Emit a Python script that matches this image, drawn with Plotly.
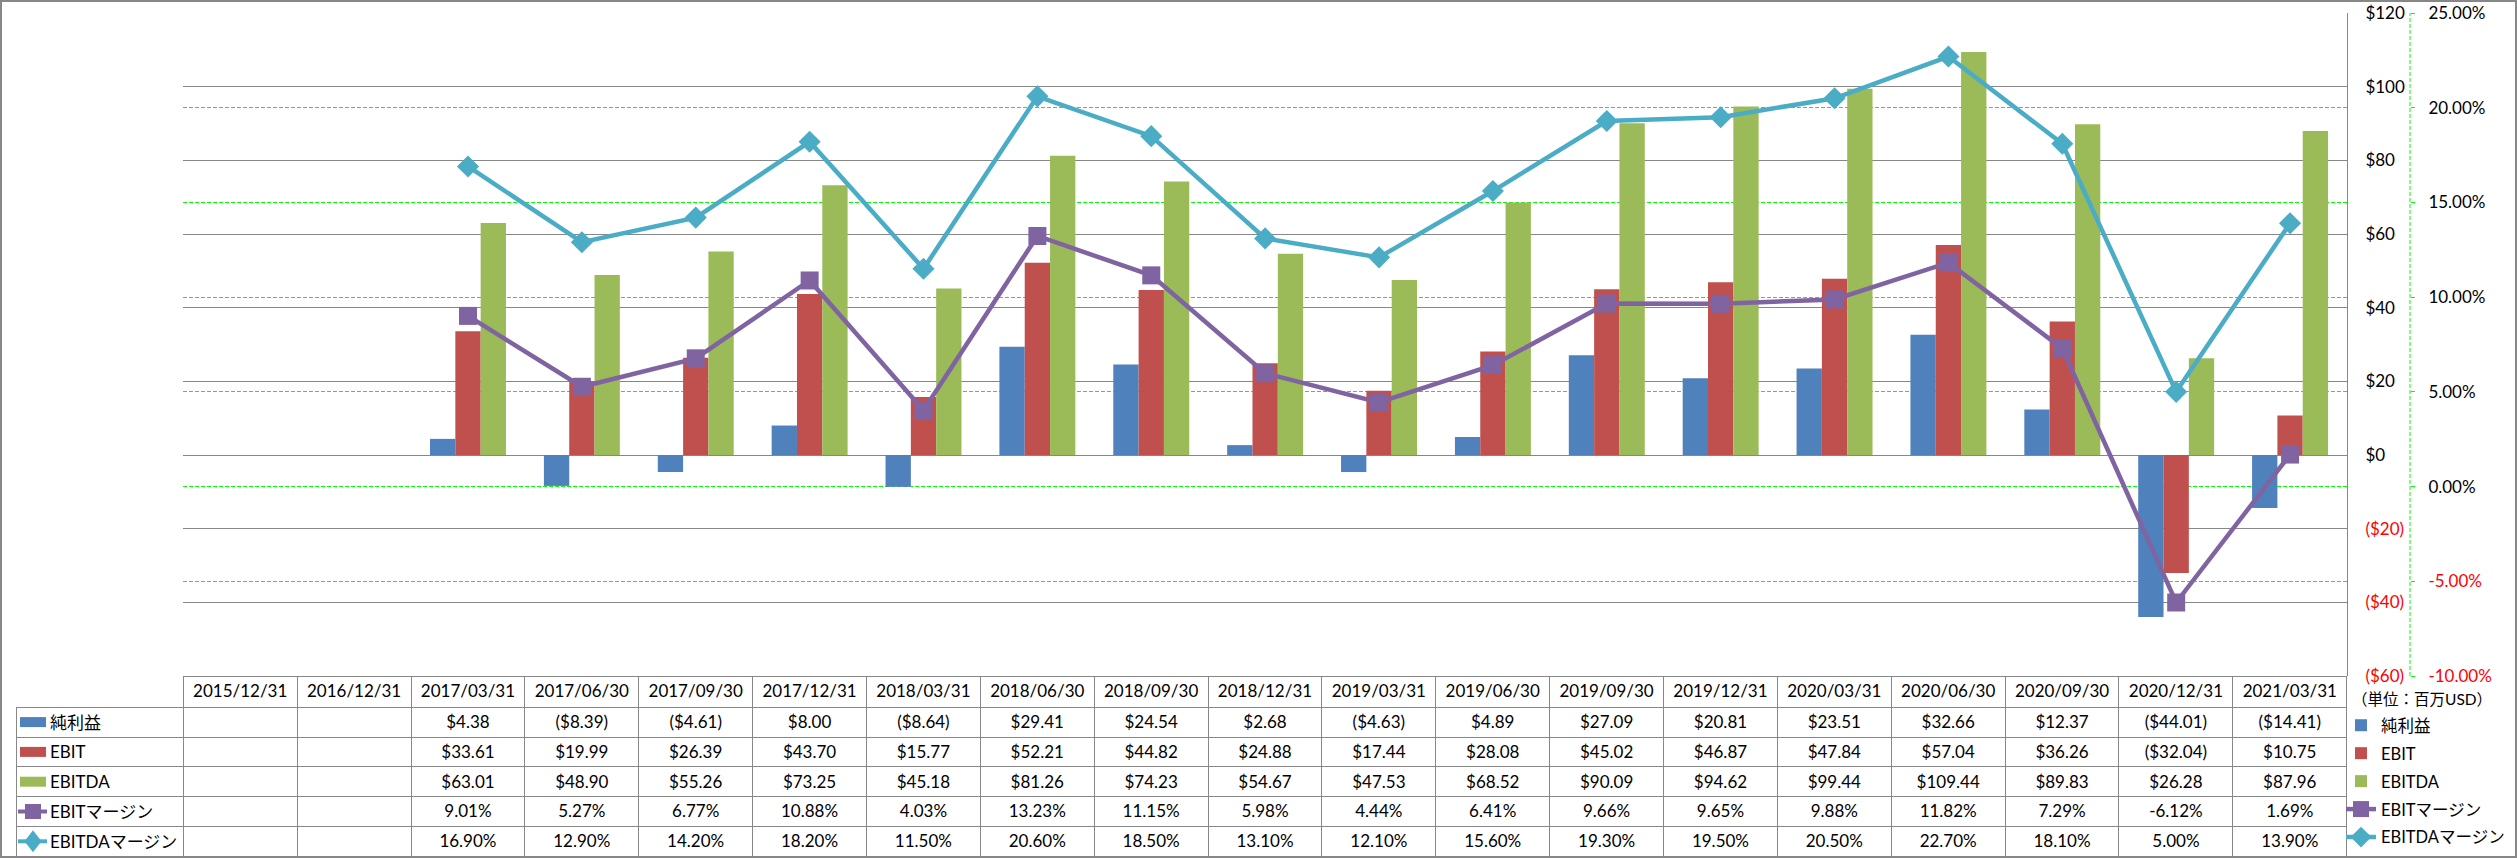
import plotly.graph_objects as go

W, H = 2517, 858

categories = ["2015/12/31", "2016/12/31", "2017/03/31", "2017/06/30", "2017/09/30", "2017/12/31",
              "2018/03/31", "2018/06/30", "2018/09/30", "2018/12/31", "2019/03/31", "2019/06/30",
              "2019/09/30", "2019/12/31", "2020/03/31", "2020/06/30", "2020/09/30", "2020/12/31",
              "2021/03/31"]
net_income = [None, None, 4.38, -8.39, -4.61, 8.00, -8.64, 29.41, 24.54, 2.68, -4.63, 4.89,
              27.09, 20.81, 23.51, 32.66, 12.37, -44.01, -14.41]
ebit = [None, None, 33.61, 19.99, 26.39, 43.70, 15.77, 52.21, 44.82, 24.88, 17.44, 28.08,
        45.02, 46.87, 47.84, 57.04, 36.26, -32.04, 10.75]
ebitda = [None, None, 63.01, 48.90, 55.26, 73.25, 45.18, 81.26, 74.23, 54.67, 47.53, 68.52,
          90.09, 94.62, 99.44, 109.44, 89.83, 26.28, 87.96]
ebit_margin = [None, None, 9.01, 5.27, 6.77, 10.88, 4.03, 13.23, 11.15, 5.98, 4.44, 6.41,
               9.66, 9.65, 9.88, 11.82, 7.29, -6.12, 1.69]
ebitda_margin = [None, None, 16.90, 12.90, 14.20, 18.20, 11.50, 20.60, 18.50, 13.10, 12.10, 15.60,
                 19.30, 19.50, 20.50, 22.70, 18.10, 5.00, 13.90]
series_names = ["純利益", "EBIT", "EBITDA", "EBITマージン", "EBITDAマージン"]
usd_ticks = [120, 100, 80, 60, 40, 20, 0, -20, -40, -60]
pct_ticks = [25, 20, 15, 10, 5, 0, -5, -10]
unit_label = "（単位：百万USD）"

C_BLUE, C_RED, C_GREEN, C_PURPLE, C_CYAN = "#4F81BD", "#C0504D", "#9BBB59", "#8064A2", "#4BACC6"
GRID = "#878787"
LIME = "#00FF00"
FONT = "Lato, 'Noto Sans CJK JP', sans-serif"
FS = 17

# table geometry (pixels)
TAB_LEFT, PLOT_LEFT, PLOT_RIGHT = 16.7, 183.3, 2347
TAB_TOP, HEAD_H, ROW_H = 676.7, 30.5, 29.8


def px(x):
    return x / W


def py(y):
    return 1 - y / H


def fmt_usd(v):
    if v is None:
        return ""
    return f"${v:.2f}" if v >= 0 else f"(${-v:.2f})"


def fmt_pct(v):
    if v is None:
        return ""
    return f"{v:.2f}%"


def usd_tick(v):
    if v < 0:
        return f"<span style='color:#FF0000'>(${-v})</span>"
    return f"${v}"


def pct_tick(v):
    s = f"{v:.2f}%"
    if v < 0:
        return f"<span style='color:#FF0000'>{s}</span>"
    return s


fig = go.Figure()

bar_data = [(net_income, C_BLUE), (ebit, C_RED), (ebitda, C_GREEN)]
for i, (vals, col) in enumerate(bar_data):
    fig.add_trace(go.Bar(x=categories, y=vals, name=series_names[i], marker=dict(color=col, line=dict(width=0)),
                         yaxis="y", legendgroup=f"g{i}"))

fig.add_trace(go.Scatter(x=categories, y=ebit_margin, name=series_names[3], mode="lines+markers",
                         line=dict(color=C_PURPLE, width=4.5),
                         marker=dict(symbol="square", size=18, color=C_PURPLE),
                         yaxis="y2", legendgroup="g3"))
fig.add_trace(go.Scatter(x=categories, y=ebitda_margin, name=series_names[4], mode="lines+markers",
                         line=dict(color=C_CYAN, width=4.5),
                         marker=dict(symbol="diamond", size=17, color=C_CYAN),
                         yaxis="y2", legendgroup="g4"))

# data table
n = len(categories)
cols = [[""] * 5]
for k in range(n):
    cols.append([fmt_usd(net_income[k]), fmt_usd(ebit[k]), fmt_usd(ebitda[k]),
                 fmt_pct(ebit_margin[k]), fmt_pct(ebitda_margin[k])])

col0_w = PLOT_LEFT - TAB_LEFT
colw = (PLOT_RIGHT - PLOT_LEFT) / n
fig.add_trace(go.Table(
    domain=dict(x=[px(TAB_LEFT), px(PLOT_RIGHT)], y=[0, py(TAB_TOP)]),
    columnwidth=[col0_w] + [colw] * n,
    header=dict(values=[""] + categories, height=HEAD_H, align="center",
                fill=dict(color=["rgba(0,0,0,0)"] + ["white"] * n),
                line=dict(color=["rgba(0,0,0,0)"] + [GRID] * n, width=1),
                font=dict(family=FONT, size=FS, color="black")),
    cells=dict(values=cols, height=ROW_H, align=["left"] + ["center"] * n,
               fill=dict(color="white"), line=dict(color=GRID, width=1),
               font=dict(family=FONT, size=FS, color="black")),
))

# row labels + keys of the data table
row_centers = [TAB_TOP + HEAD_H + ROW_H * (r + 0.5) for r in range(5)]
annotations = []
shapes = []
key_colors = [C_BLUE, C_RED, C_GREEN, C_PURPLE, C_CYAN]
for r, (name, col, yc) in enumerate(zip(series_names, key_colors, row_centers)):
    annotations.append(dict(text=name, xref="paper", yref="paper", x=px(48), y=py(yc),
                            xanchor="left", yanchor="middle", showarrow=False,
                            font=dict(family=FONT, size=FS, color="black")))
    if r < 3:
        shapes.append(dict(type="rect", xref="paper", yref="paper", x0=px(20), x1=px(46),
                           y0=py(yc + 5), y1=py(yc - 5), fillcolor=col, line=dict(width=0)))
    else:
        shapes.append(dict(type="line", xref="paper", yref="paper", x0=px(18), x1=px(47),
                           y0=py(yc), y1=py(yc), line=dict(color=col, width=4)))
        cx = 33
        if r == 3:
            shapes.append(dict(type="rect", xref="paper", yref="paper", x0=px(cx - 8), x1=px(cx + 8),
                               y0=py(yc + 7.5), y1=py(yc - 7.5), fillcolor=col, line=dict(width=0)))
        else:
            path = (f"M {px(cx)} {py(yc - 11)} L {px(cx + 8.5)} {py(yc)} "
                    f"L {px(cx)} {py(yc + 11)} L {px(cx - 8.5)} {py(yc)} Z")
            shapes.append(dict(type="path", xref="paper", yref="paper", path=path,
                               fillcolor=col, line=dict(width=0)))

shapes += [
    dict(type="rect", xref="paper", yref="paper", x0=px(1), x1=px(2516), y0=py(857), y1=py(1),
         line=dict(color=GRID, width=2), fillcolor="rgba(0,0,0,0)", layer="above"),
    dict(type="line", xref="paper", yref="paper", x0=px(2410), x1=px(2410), y0=py(676), y1=py(13),
         line=dict(color=LIME, width=1, dash="4px,2px")),
]
annotations.append(dict(text=unit_label, xref="paper", yref="paper", x=px(2422), y=py(699),
                        showarrow=False, font=dict(family=FONT, size=15.5, color="black"),
                        xanchor="center", yanchor="middle"))

fig.update_layout(
    width=W, height=H,
    margin=dict(l=0, r=0, t=0, b=0, autoexpand=False),
    paper_bgcolor="white", plot_bgcolor="white",
    font=dict(family=FONT, size=FS, color="black"),
    barmode="group", bargap=0.333, bargroupgap=0,
    xaxis=dict(domain=[px(PLOT_LEFT), px(PLOT_RIGHT)], type="category", categoryorder="array",
               categoryarray=categories, range=[-0.5, n - 0.5], showticklabels=False,
               showgrid=False, zeroline=False, showline=False, ticks=""),
    yaxis=dict(domain=[py(676), py(13)], range=[-60, 120], side="right", anchor="x",
               tickvals=usd_ticks, ticktext=[usd_tick(v) for v in usd_ticks],
               showgrid=True, gridcolor=GRID, gridwidth=1, zeroline=False,
               showline=True, linecolor=GRID, linewidth=1, ticks="", ticklabelstandoff=14,
               tickfont=dict(family=FONT, size=FS, color="black"), automargin=False),
    yaxis2=dict(overlaying="y", anchor="free", position=px(2410), side="right",
                range=[-10, 25], tickvals=pct_ticks, ticktext=[pct_tick(v) for v in pct_ticks],
                showgrid=True, gridcolor=LIME, gridwidth=1, griddash="4px,2px", zeroline=False,
                showline=False, ticks="outside", ticklen=4, tickcolor=LIME, tickwidth=1,
                ticklabelstandoff=10, tickfont=dict(family=FONT, size=FS, color="black"),
                automargin=False),
    legend=dict(x=px(2341), y=py(708), xanchor="left", yanchor="top", orientation="v",
                font=dict(family=FONT, size=16.5, color="black"), bgcolor="rgba(0,0,0,0)",
                traceorder="grouped", tracegroupgap=3.5, itemwidth=30),
    showlegend=True,
    shapes=shapes,
    annotations=annotations,
)

fig.write_html("out.html", config={"displayModeBar": False},
               post_script="document.body.style.margin='0px';document.body.style.overflow='hidden';")
